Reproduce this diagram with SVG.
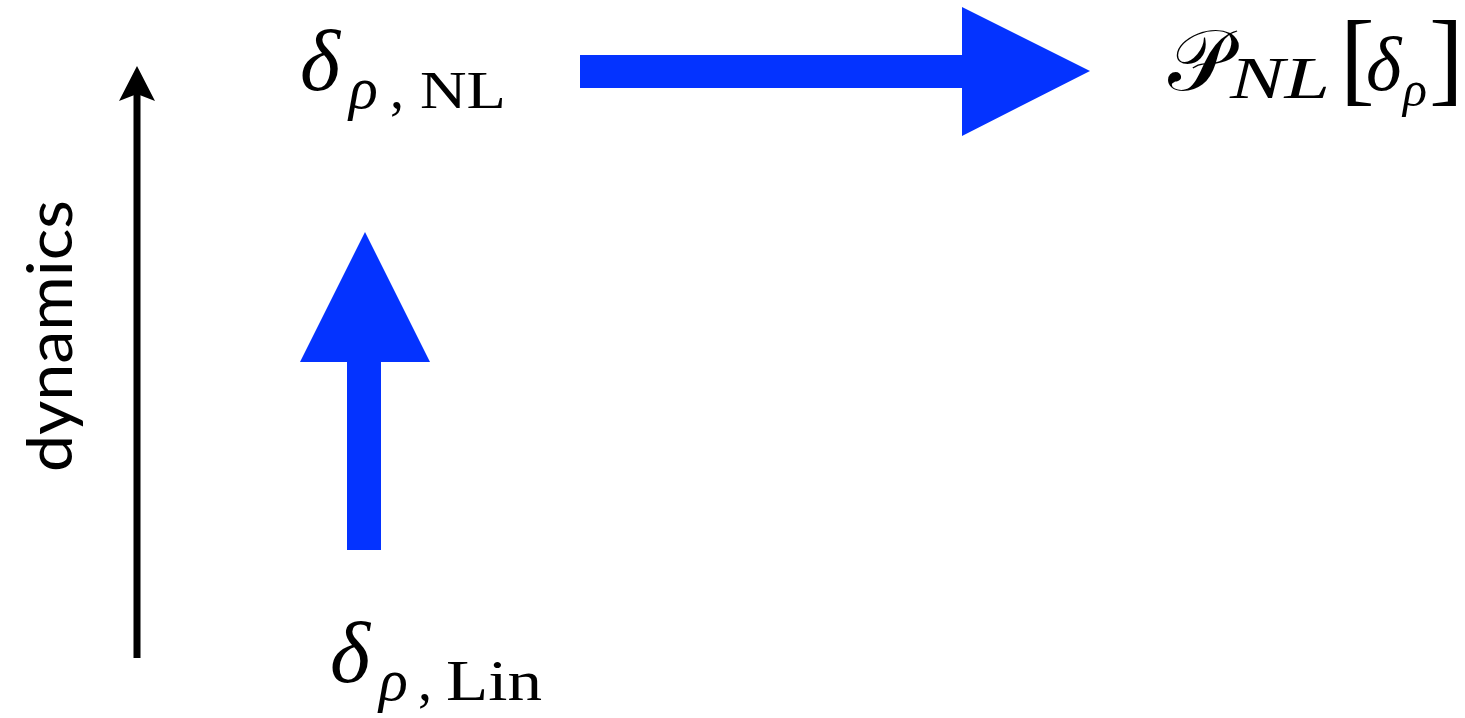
<svg xmlns="http://www.w3.org/2000/svg" width="1465" height="718" viewBox="0 0 1465 718">
<style>
.m{font-family:"Liberation Serif","DejaVu Serif",serif;fill:#000}
.i{font-style:italic}
.s{font-family:Lato,"Open Sans",sans-serif;fill:#000}
.blue{fill:#0433FF}
</style>
<rect width="1465" height="718" fill="#fff"/>
<g id="connectors">
<line x1="137" y1="658" x2="137" y2="92" stroke="#000" stroke-width="7"/>
<polygon points="137,66 119,101 137,94 155,101" fill="#000"/>
<polygon class="blue" points="580,55 962,55 962,7 1090,71 962,136 962,88 580,88"/>
<polygon class="blue" points="347,550 347,362 300,362 365,232 430,362 381,362 381,550"/>
</g>
<g id="axis-label">
<text class="s" transform="translate(72,336) rotate(-90)" text-anchor="middle" font-size="61" textLength="272" lengthAdjust="spacingAndGlyphs">dynamics</text>
</g>
<g id="node-nl">
<text class="m i" x="300" y="90" font-size="86">δ</text>
<text class="m i" x="349" y="108" font-size="60">ρ</text>
<text class="m" x="390" y="108" font-size="56">,</text>
<text class="m" x="420" y="108" font-size="52" textLength="86" lengthAdjust="spacingAndGlyphs">NL</text>
</g>
<g id="node-lin">
<text class="m i" x="330" y="682" font-size="86">δ</text>
<text class="m i" x="379" y="700" font-size="60">ρ</text>
<text class="m" x="418" y="700" font-size="56">,</text>
<text class="m" x="446" y="700" font-size="56" textLength="96" lengthAdjust="spacingAndGlyphs">Lin</text>
</g>
<g id="node-p">
<text class="m" x="1168" y="90" font-size="86">𝒫</text>
<text class="m i" x="1230" y="98" font-size="60" textLength="100" lengthAdjust="spacingAndGlyphs">NL</text>
<text class="m" x="1340" y="92" font-size="104">[</text>
<text class="m i" x="1366" y="90" font-size="76">δ</text>
<text class="m i" x="1403" y="106" font-size="50">ρ</text>
<text class="m" x="1429" y="92" font-size="104">]</text>
</g>
</svg>
